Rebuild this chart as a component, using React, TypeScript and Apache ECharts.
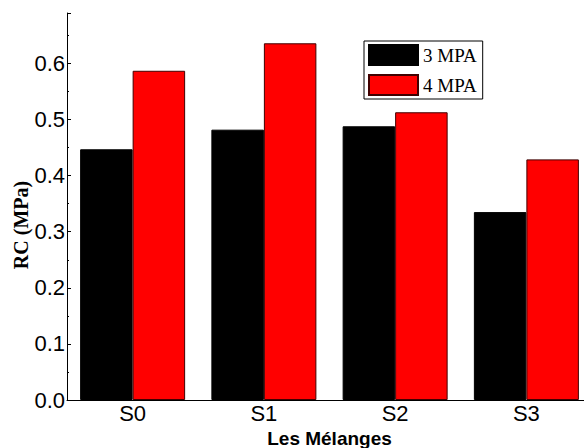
import React, { useEffect, useRef } from "react";
import * as echarts from "echarts";

const categories = ["S0", "S1", "S2", "S3"];
const series3MPA = [0.447, 0.482, 0.488, 0.335];
const series4MPA = [0.587, 0.636, 0.513, 0.429];
const seriesNames = ["3 MPA", "4 MPA"];

export default function App() {
  const ref = useRef<HTMLDivElement>(null);
  useEffect(() => {
    if (!ref.current) return;
    const chart = echarts.init(ref.current, null, { renderer: "svg" });
    chart.setOption({
      animation: false,
      backgroundColor: "#fff",
      grid: { left: 67, right: -8, top: 13, bottom: 48, containLabel: false, outerBoundsMode: "none" },
      legend: {
        orient: "vertical",
        left: 364,
        top: 41,
        data: seriesNames,
        itemWidth: 49,
        itemHeight: 20,
        itemGap: 8,
        padding: [3, 6, 3, 4],
        borderColor: "#000",
        borderWidth: 1,
        icon: "rect",
        textStyle: { fontFamily: "Liberation Serif", fontSize: 19, color: "#000" },
      },
      graphic: [
        {
          type: "text",
          x: 21,
          y: 225,
          rotation: Math.PI / 2,
          style: {
            text: "RC (MPa)",
            fontFamily: "Liberation Serif",
            fontWeight: "bold",
            fontSize: 20,
            fill: "#000",
            align: "center",
            verticalAlign: "middle",
          },
        },
      ],
      xAxis: {
        type: "category",
        data: categories,
        name: "Les Mélanges",
        nameLocation: "middle",
        nameGap: 27,
        nameTextStyle: { fontFamily: "Liberation Sans", fontWeight: "bold", fontSize: 19, color: "#000" },
        axisLine: { lineStyle: { color: "#000", width: 1 } },
        axisTick: { inside: true, length: 3, lineStyle: { color: "#000" } },
        axisLabel: { fontFamily: "Liberation Sans", fontSize: 22, color: "#000", margin: 2 },
      },
      yAxis: {
        type: "value",
        min: 0,
        max: 0.69,
        interval: 0.1,
        axisLine: { show: true, lineStyle: { color: "#000", width: 1 } },
        axisTick: { show: true, inside: true, length: 4, lineStyle: { color: "#000" } },
        minorTick: { show: true, splitNumber: 2, length: 2, lineStyle: { color: "#000" } },
        splitLine: { show: false },
        axisLabel: {
          fontFamily: "Liberation Sans",
          fontSize: 22,
          color: "#000",
          margin: 2,
          showMaxLabel: false,
          formatter: (v: number) => v.toFixed(1),
        },
      },
      series: [
        {
          name: seriesNames[0],
          type: "bar",
          data: series3MPA,
          barGap: "0%",
          barCategoryGap: "20%",
          itemStyle: { color: "#000", borderColor: "#000", borderWidth: 1 },
        },
        {
          name: seriesNames[1],
          type: "bar",
          data: series4MPA,
          barGap: "0%",
          barCategoryGap: "20%",
          itemStyle: { color: "#ff0000", borderColor: "#400000", borderWidth: 1 },
        },
      ],
    });
    return () => chart.dispose();
  }, []);
  return <div ref={ref} style={{ width: 584, height: 448, position: "absolute", left: 0, top: 0 }} />;
}
